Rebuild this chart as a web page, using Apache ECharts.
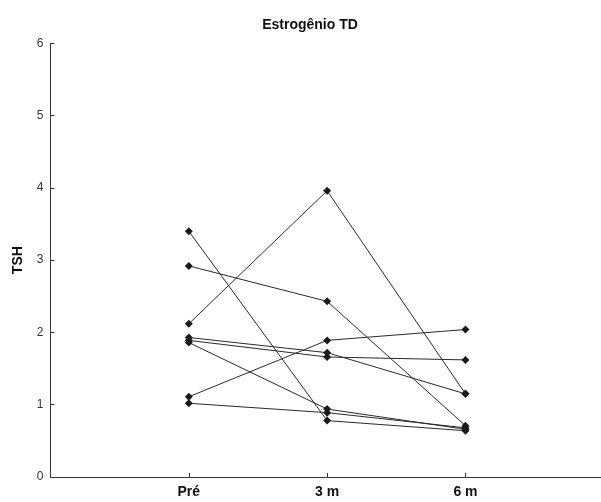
<!DOCTYPE html>
<html>
<head>
<meta charset="utf-8">
<script src="https://cdn.jsdelivr.net/npm/echarts@6/dist/echarts.min.js"></script>
<style>html,body{margin:0;padding:0;background:#fff}#c{width:601px;height:502px}</style>
</head>
<body>
<div id="c"></div>
<script>
var categories = ['Pré', '3 m', '6 m'];
var pre = [3.40, 2.92, 2.12, 1.93, 1.89, 1.86, 1.11, 1.02];
var m3  = [0.78, 2.43, 3.96, 1.72, 1.66, 0.94, 1.89, 0.89];
var m6  = [0.64, 0.71, 1.15, 1.15, 1.62, 0.66, 2.04, 0.68];
var yTicks = [0, 1, 2, 3, 4, 5, 6];

var series = pre.map(function (v, i) {
  return {
    type: 'line',
    data: [[1, pre[i]], [2, m3[i]], [3, m6[i]]],
    symbol: 'diamond',
    symbolSize: 8,
    lineStyle: { color: '#2a2a2a', width: 1 },
    itemStyle: { color: '#1a1a1a' },
    silent: true,
    animation: false
  };
});

var chart = echarts.init(document.getElementById('c'), null, { renderer: 'canvas' });
chart.setOption({
  animation: false,
  backgroundColor: '#fff',
  title: {
    text: 'Estrogênio TD',
    left: 305, top: 13, textAlign: 'center',
    textStyle: { fontFamily: 'Liberation Sans', fontSize: 14, fontWeight: 'bold', color: '#111' }
  },
  grid: { left: 50.5, right: 0, top: 43.3, bottom: 25 },
  xAxis: {
    type: 'value', min: 0, max: 3.98, interval: 1,
    axisLine: { lineStyle: { color: '#333', width: 1 } },
    splitLine: { show: false },
    axisTick: { inside: true, length: 4, customValues: [1, 2, 3], lineStyle: { color: '#333' } },
    axisLabel: {
      customValues: [1, 2, 3],
      formatter: function (v) { return categories[Math.round(v) - 1] || ''; },
      fontFamily: 'Liberation Sans', fontSize: 14, fontWeight: 'bold', color: '#111', margin: 8
    }
  },
  yAxis: {
    type: 'value', min: 0, max: 6, interval: 1,
    name: 'TSH', nameLocation: 'middle', nameGap: 25, nameRotate: 90,
    nameTextStyle: { fontFamily: 'Liberation Sans', fontSize: 14, fontWeight: 'bold', color: '#111' },
    axisLine: { show: true, lineStyle: { color: '#333', width: 1 } },
    splitLine: { show: false },
    axisTick: { inside: true, length: 4, customValues: yTicks, lineStyle: { color: '#333' } },
    axisLabel: {
      customValues: yTicks,
      fontFamily: 'Liberation Sans', fontSize: 12, color: '#333', margin: 7
    }
  },
  series: series
});
</script>
</body>
</html>
